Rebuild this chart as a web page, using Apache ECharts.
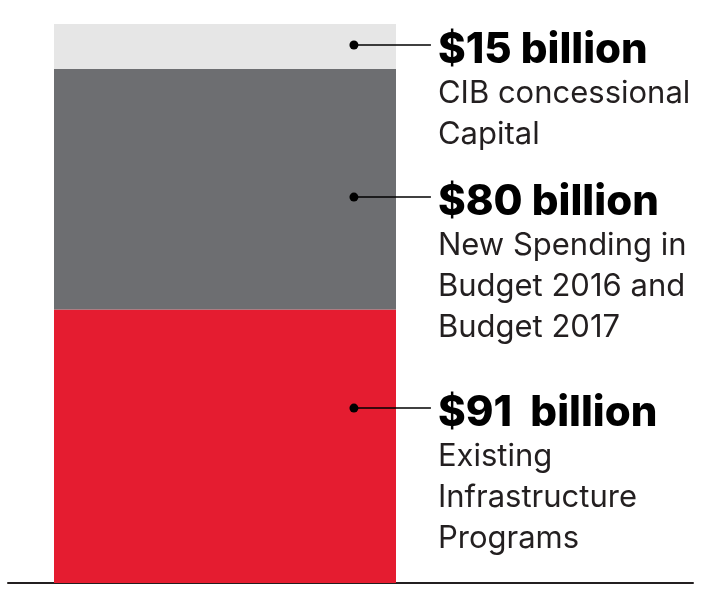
<!DOCTYPE html>
<html>
<head>
<meta charset="utf-8">
<script src="https://cdn.jsdelivr.net/npm/echarts@6/dist/echarts.min.js"></script>
<style>html,body{margin:0;padding:0;background:#fff}#c{width:714px;height:592px}</style>
</head>
<body>
<div id="c"></div>
<script>
var categories = ['Infrastructure funding'];
var seriesNames = ['Existing Infrastructure Programs', 'New Spending in Budget 2016 and Budget 2017', 'CIB concessional Capital'];
var existingValues = [91];
var newSpendingValues = [80];
var cibValues = [15];
var totalMax = 186;
var headlines = ['$91  billion', '$80 billion', '$15 billion'];
var descriptions = [
  ['Existing', 'Infrastructure', 'Programs'],
  ['New Spending in', 'Budget 2016 and', 'Budget 2017'],
  ['CIB concessional', 'Capital']
];
var anchorValues = [58.2, 128.4, 179.0];

var colors = ['#e51c30', '#6d6e71', '#e6e6e6'];

var chart = echarts.init(document.getElementById('c'));

var annotationData = anchorValues.map(function (v, i) { return [0.505, v, i]; });

chart.setOption({
  animation: false,
  grid: [
    { left: 54, width: 342, top: 24, bottom: 9 },
    { left: 8, right: 21, top: 24, bottom: 9 }
  ],
  xAxis: [
    { type: 'category', gridIndex: 0, data: categories, show: false },
    { type: 'value', gridIndex: 1, min: 0, max: 1, axisLine: { show: true, onZero: false, lineStyle: { color: '#231f20', width: 2 } }, axisTick: { show: false }, axisLabel: { show: false }, splitLine: { show: false } }
  ],
  yAxis: [
    { type: 'value', gridIndex: 0, min: 0, max: totalMax, show: false },
    { type: 'value', gridIndex: 1, min: 0, max: totalMax, show: false }
  ],
  series: [
    { name: seriesNames[0], type: 'bar', stack: 'total', barWidth: '100%', data: existingValues, itemStyle: { color: colors[0] } },
    { name: seriesNames[1], type: 'bar', stack: 'total', barWidth: '100%', data: newSpendingValues, itemStyle: { color: colors[1] } },
    { name: seriesNames[2], type: 'bar', stack: 'total', barWidth: '100%', data: cibValues, itemStyle: { color: colors[2] } },
    {
      type: 'custom',
      xAxisIndex: 1,
      yAxisIndex: 1,
      data: annotationData,
      z: 10,
      renderItem: function (params, api) {
        var p = api.coord([api.value(0), api.value(1)]);
        var idx = api.value(2);
        var x = p[0], y = p[1];
        return {
          type: 'group',
          children: [
            { type: 'line', shape: { x1: x, y1: y, x2: x + 77, y2: y }, style: { stroke: '#000', lineWidth: 1.5 } },
            { type: 'circle', shape: { cx: x, cy: y, r: 4.5 }, style: { fill: '#000' } },
            { type: 'text', x: x + 84, y: y + 5, style: { text: headlines[idx], fill: '#000', font: '800 42px Inter', textAlign: 'left', textVerticalAlign: 'middle' } },
            { type: 'text', x: x + 84, y: y + 28, style: { text: descriptions[idx].join('\n'), fill: '#231f20', font: '31px Inter', lineHeight: 41, textAlign: 'left', textVerticalAlign: 'top' } }
          ]
        };
      }
    }
  ]
});
</script>
</body>
</html>
